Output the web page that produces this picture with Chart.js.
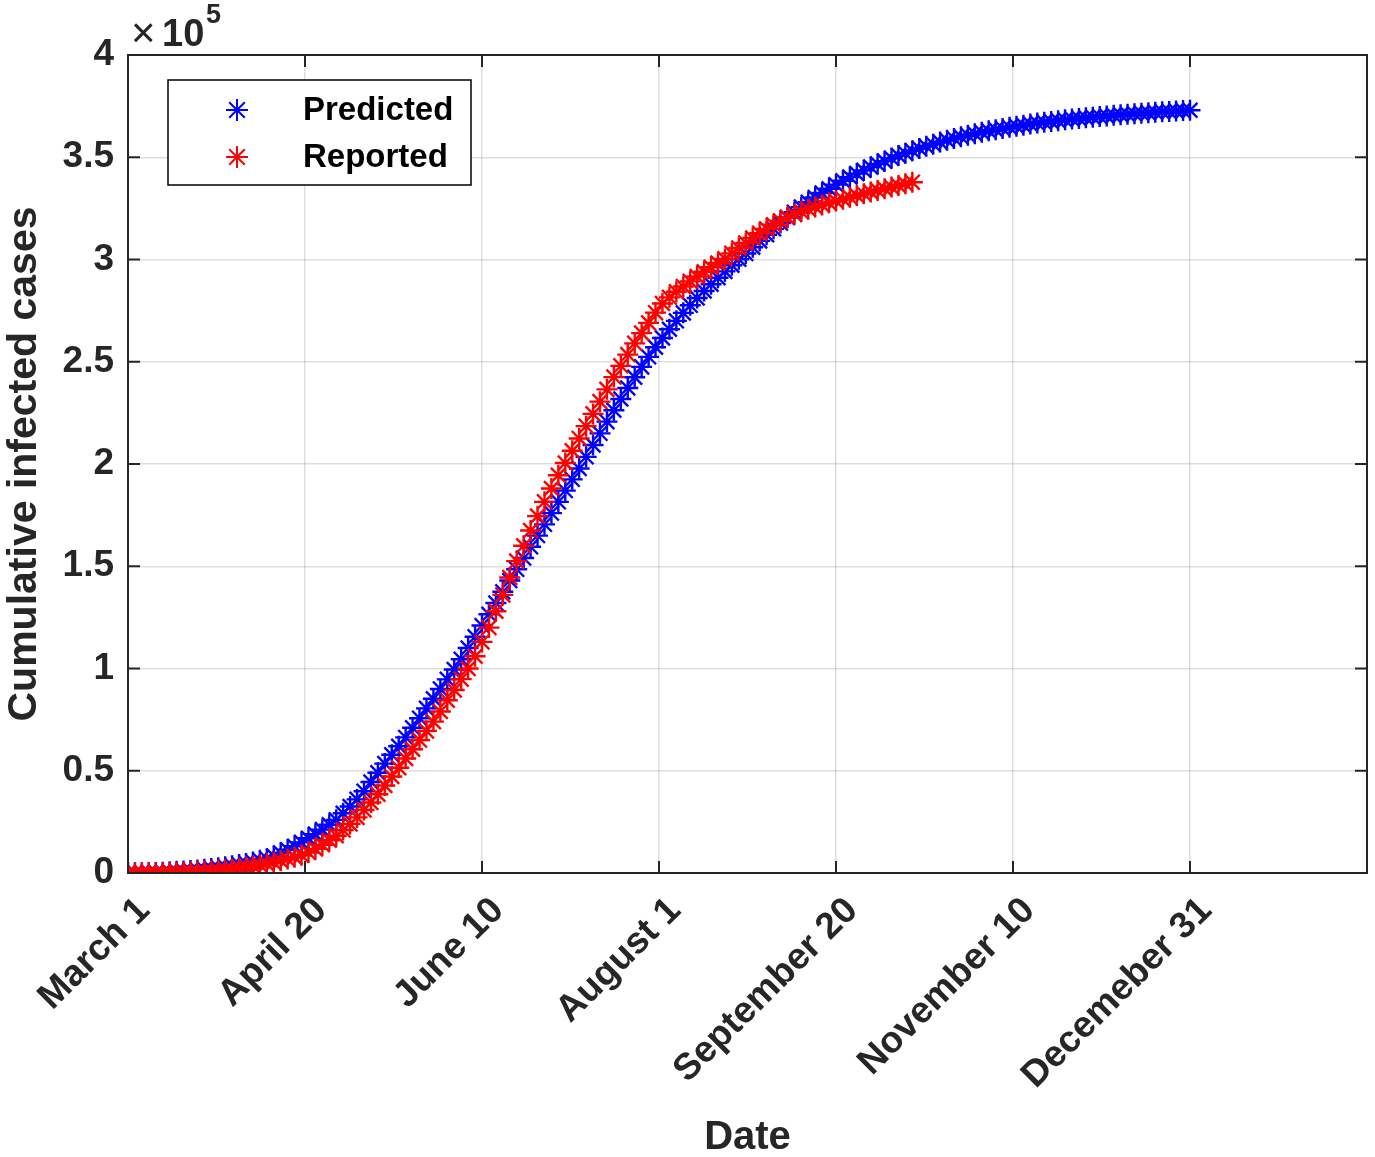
<!DOCTYPE html>
<html>
<head>
<meta charset="utf-8">
<script src="https://cdn.jsdelivr.net/npm/chart.js@4.4.1/dist/chart.umd.min.js"></script>
<style>
  html, body { margin: 0; padding: 0; background: #fff; }
  #wrap { width: 1375px; height: 1157px; position: relative; }
</style>
</head>
<body>
<div id="wrap"><canvas id="chart" width="1375" height="1157"></canvas></div>
<script>
// --- data (cases in units of 1e5, one value every 2 days from March 1) ---
const dayStep = 2;

const predicted = [
  0.000, 0.001, 0.001, 0.002, 0.003, 0.004, 0.006, 0.008, 0.010, 0.012,
  0.015, 0.018, 0.022, 0.026, 0.030, 0.035, 0.041, 0.047, 0.054, 0.062,
  0.070, 0.083, 0.098, 0.114, 0.131, 0.150, 0.170, 0.190, 0.212, 0.236,
  0.260, 0.292, 0.325, 0.360, 0.400, 0.445, 0.490, 0.535, 0.578, 0.620,
  0.663, 0.710, 0.757, 0.805, 0.852, 0.900, 0.947, 0.995, 1.045, 1.100,
  1.155, 1.210, 1.265, 1.320, 1.375, 1.430, 1.485, 1.540, 1.595, 1.650,
  1.705, 1.760, 1.815, 1.870, 1.925, 1.978, 2.035, 2.093, 2.150, 2.207,
  2.263, 2.318, 2.372, 2.424, 2.475, 2.524, 2.571, 2.616, 2.659, 2.700,
  2.739, 2.776, 2.812, 2.846, 2.879, 2.911, 2.942, 2.972, 3.001, 3.029,
  3.060, 3.091, 3.121, 3.150, 3.178, 3.205, 3.231, 3.256, 3.280, 3.303,
  3.325, 3.346, 3.366, 3.385, 3.403, 3.420, 3.436, 3.452, 3.467, 3.481,
  3.495, 3.508, 3.520, 3.532, 3.543, 3.554, 3.564, 3.574, 3.583, 3.592,
  3.600, 3.608, 3.615, 3.622, 3.629, 3.635, 3.641, 3.647, 3.652, 3.657,
  3.662, 3.667, 3.671, 3.675, 3.679, 3.683, 3.687, 3.690, 3.693, 3.696,
  3.699, 3.702, 3.705, 3.708, 3.710, 3.713, 3.715, 3.717, 3.720, 3.722,
  3.724, 3.726, 3.728, 3.730
];

const reported = [
  0.000, 0.000, 0.000, 0.001, 0.001, 0.001, 0.002, 0.003, 0.004, 0.005,
  0.006, 0.008, 0.010, 0.013, 0.016, 0.020, 0.024, 0.029, 0.034, 0.039,
  0.045, 0.052, 0.060, 0.068, 0.077, 0.087, 0.100, 0.118, 0.138, 0.160,
  0.182, 0.210, 0.240, 0.272, 0.308, 0.345, 0.385, 0.428, 0.472, 0.515,
  0.560, 0.605, 0.650, 0.695, 0.740, 0.790, 0.845, 0.895, 0.948, 1.000,
  1.060, 1.130, 1.200, 1.280, 1.360, 1.445, 1.525, 1.600, 1.675, 1.745,
  1.815, 1.880, 1.945, 2.005, 2.065, 2.125, 2.185, 2.245, 2.305, 2.365,
  2.425, 2.480, 2.535, 2.590, 2.640, 2.690, 2.740, 2.785, 2.815, 2.842,
  2.868, 2.893, 2.917, 2.940, 2.962, 2.983, 3.003, 3.030, 3.056, 3.081,
  3.105, 3.128, 3.150, 3.170, 3.189, 3.206, 3.221, 3.234, 3.246, 3.257,
  3.267, 3.277, 3.286, 3.295, 3.304, 3.313, 3.322, 3.330, 3.338, 3.346,
  3.354, 3.362, 3.370, 3.378
];

const xTickDays = [0, 51, 102, 153, 204, 255, 306];
const xTickLabels = ['March 1', 'April 20', 'June 10', 'August 1', 'September 20', 'November 10', 'Decemeber 31'];
const xMax = 357;
const yMax = 4;
const seriesNames = ['Predicted', 'Reported'];
const seriesColors = ['#0000ff', '#ff0000'];
// --- end of data ---

const axisColor = '#262626';
const font = 'Liberation Sans, Arial, Helvetica, sans-serif';

function toPoints(vals) {
  return vals.map((v, i) => ({ x: i * dayStep, y: v }));
}

// frame, inward ticks, x10^5 and the legend box
const matlabDecor = {
  id: 'matlabDecor',
  afterDraw(chart) {
    const { ctx, chartArea: a, scales } = chart;
    ctx.save();
    ctx.strokeStyle = axisColor;
    ctx.lineWidth = 2;
    ctx.strokeRect(a.left, a.top, a.right - a.left, a.bottom - a.top);

    const tl = 12;
    ctx.beginPath();
    scales.x.ticks.forEach(t => {
      const px = scales.x.getPixelForValue(t.value);
      ctx.moveTo(px, a.bottom); ctx.lineTo(px, a.bottom - tl);
      ctx.moveTo(px, a.top); ctx.lineTo(px, a.top + tl);
    });
    scales.y.ticks.forEach(t => {
      const py = scales.y.getPixelForValue(t.value);
      ctx.moveTo(a.left, py); ctx.lineTo(a.left + tl, py);
      ctx.moveTo(a.right, py); ctx.lineTo(a.right - tl, py);
    });
    ctx.stroke();

    // exponent label
    ctx.fillStyle = axisColor;
    ctx.textBaseline = 'alphabetic';
    ctx.textAlign = 'left';
    ctx.font = '42px ' + font;
    ctx.fillText('\u00d7', a.left + 3, a.top - 8);
    ctx.font = 'bold 38px ' + font;
    ctx.fillText('10', a.left + 34, a.top - 9);
    ctx.font = 'bold 27px ' + font;
    ctx.fillText('5', a.left + 78, a.top - 32);

    // legend
    const lx = a.left + 40, ly = a.top + 25, lw = 303, lh = 105;
    ctx.fillStyle = '#fff';
    ctx.fillRect(lx, ly, lw, lh);
    ctx.strokeStyle = '#000';
    ctx.lineWidth = 1.5;
    ctx.strokeRect(lx, ly, lw, lh);
    chart.data.datasets.forEach((ds, i) => {
      const cy = ly + 30 + i * 47;
      const cx = lx + 69;
      const r = 11;
      ctx.strokeStyle = ds.borderColor;
      ctx.lineWidth = 2;
      ctx.beginPath();
      ctx.moveTo(cx - r, cy); ctx.lineTo(cx + r, cy);
      ctx.moveTo(cx, cy - r); ctx.lineTo(cx, cy + r);
      const d = r * Math.SQRT1_2;
      ctx.moveTo(cx - d, cy - d); ctx.lineTo(cx + d, cy + d);
      ctx.moveTo(cx - d, cy + d); ctx.lineTo(cx + d, cy - d);
      ctx.stroke();
      ctx.fillStyle = '#000';
      ctx.font = 'bold 33px ' + font;
      ctx.textBaseline = 'middle';
      ctx.fillText(ds.label, lx + 135, cy + 1);
    });
    ctx.restore();
  }
};

const ctx = document.getElementById('chart').getContext('2d');
new Chart(ctx, {
  type: 'scatter',
  data: {
    datasets: [
      {
        label: seriesNames[0],
        data: toPoints(predicted),
        borderColor: seriesColors[0],
        backgroundColor: seriesColors[0],
        pointStyle: 'star',
        pointRadius: 10.5,
        pointBorderWidth: 2.4,
        showLine: false,
        order: 1
      },
      {
        label: seriesNames[1],
        data: toPoints(reported),
        borderColor: seriesColors[1],
        backgroundColor: seriesColors[1],
        pointStyle: 'star',
        pointRadius: 10.5,
        pointBorderWidth: 2.4,
        showLine: false,
        order: 0
      }
    ]
  },
  options: {
    responsive: false,
    animation: false,
    layout: { autoPadding: false, padding: { top: 55, right: 8, left: 0, bottom: 0 } },
    plugins: {
      legend: { display: false },
      tooltip: { enabled: false }
    },
    scales: {
      x: {
        type: 'linear',
        min: 0,
        max: xMax,
        afterBuildTicks: scale => { scale.ticks = xTickDays.map(v => ({ value: v })); },
        afterFit: scale => {
          scale.height = 284;
          scale.paddingLeft = 0;
          scale.paddingRight = 0;
        },
        ticks: {
          autoSkip: false,
          minRotation: 45,
          maxRotation: 45,
          padding: 16,
          labelOffset: 16,
          color: axisColor,
          font: { family: font, size: 37, weight: 'bold' },
          callback: v => xTickLabels[xTickDays.indexOf(v)] || ''
        },
        grid: { color: 'rgba(0,0,0,0.13)', lineWidth: 1.5, drawTicks: false },
        border: { display: false },
        title: {
          display: true,
          text: 'Date',
          color: axisColor,
          padding: { top: 0, bottom: 0 },
          font: { family: font, size: 40, weight: 'bold', lineHeight: 0.95 }
        }
      },
      y: {
        min: 0,
        max: yMax,
        afterFit: scale => { scale.width = 128; },
        ticks: {
          stepSize: 0.5,
          padding: 14,
          color: axisColor,
          font: { family: font, size: 37, weight: 'bold' },
          callback: v => String(v)
        },
        grid: { color: 'rgba(0,0,0,0.13)', lineWidth: 1.5, drawTicks: false },
        border: { display: false },
        title: {
          display: true,
          text: 'Cumulative infected cases',
          color: axisColor,
          padding: { top: 0, bottom: 0 },
          font: { family: font, size: 41, weight: 'bold' }
        }
      }
    }
  },
  plugins: [matlabDecor]
});
</script>
</body>
</html>
